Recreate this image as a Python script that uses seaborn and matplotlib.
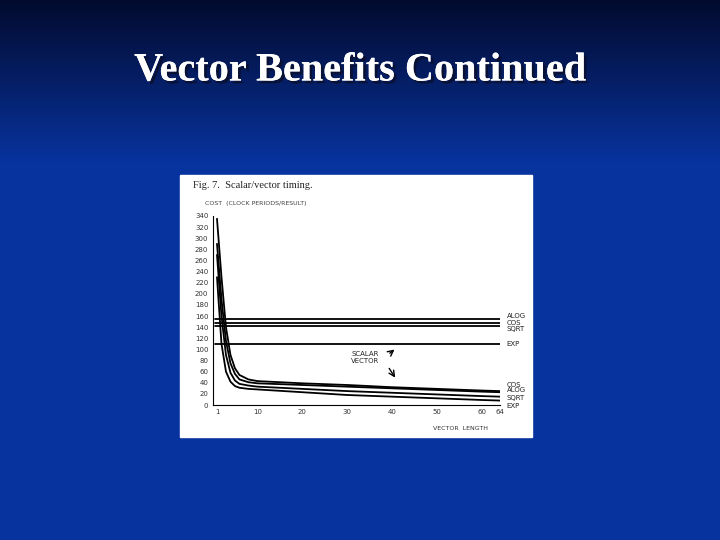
import numpy as np
import matplotlib
matplotlib.use("Agg")
import matplotlib.pyplot as plt
import seaborn as sns
import pandas as pd
from matplotlib.patches import Rectangle
import matplotlib.patheffects as pe

sns.set_style("white")
plt.rcParams['font.family'] = ['DejaVu Sans']

x_vec = [1, 2, 3, 4, 5, 6, 8, 10, 20, 30, 40, 50, 60, 64]
vec_cos = [335, 230, 140, 90, 66, 54, 46, 43, 39, 36, 32, 29, 26, 25]
vec_alog = [290, 190, 115, 75, 56, 46, 41, 39, 36, 33, 30, 27, 24, 23]
vec_sqrt = [270, 160, 90, 58, 44, 38, 35, 33, 29, 25, 22, 19, 16, 15]
vec_exp = [230, 110, 60, 42, 34, 31, 29, 28, 23, 18, 15, 12, 9, 8]
scalar_names = ["ALOG", "COS", "SQRT", "EXP"]
scalar_vals = [155, 148, 142, 110]
vec_names = ["COS", "ALOG", "SQRT", "EXP"]
yticks = list(range(0, 341, 20))
ytick_labels = [str(v) for v in yticks]
xticks = [1, 10, 20, 30, 40, 50, 60, 64]

fig = plt.figure(figsize=(7.2, 5.4), dpi=100)
bg = fig.add_axes([0, 0, 1, 1])
h, w = 540, 720
yy, xx = np.mgrid[0:h, 0:w]
t = np.clip(yy / h, 0, 1)
top = np.array([0.01, 0.04, 0.18])
mid = np.array([0.03, 0.20, 0.62])
f = np.clip(t / 0.3, 0, 1)[..., None]
img = top * (1 - f) + mid * f
bg.imshow(img, extent=[0, w, h, 0], aspect='auto')
bg.set_xlim(0, w); bg.set_ylim(h, 0); bg.axis('off')
bg.add_patch(Rectangle((180, 175), 352, 262, color='white'))
bg.text(360, 71, "Vector Benefits Continued", ha='center', va='center', color='white',
        fontsize=29, fontweight='bold', family='Liberation Serif',
        path_effects=[pe.withSimplePatchShadow(offset=(2, -2), shadow_rgbFace='#0a1030', alpha=0.9), pe.Normal()])
bg.text(193, 186, "Fig. 7.  Scalar/vector timing.", fontsize=7.5, family='Liberation Serif', va='center', color='#222')
bg.text(205, 204, "COST  (CLOCK PERIODS/RESULT)", fontsize=4.5, va='center', color='#444')
bg.text(433, 429, "VECTOR  LENGTH", fontsize=4.5, va='center', color='#333')

ax = fig.add_axes([212.5/720, 135/540, 287.5/720, 189/540])
ax.patch.set_alpha(0)
rows = []
for name, vals in zip(vec_names, [vec_cos, vec_alog, vec_sqrt, vec_exp]):
    for xv, yv in zip(x_vec, vals):
        rows.append(dict(x=xv, y=yv, s="V" + name))
for name, v in zip(scalar_names, scalar_vals):
    for xv in [0.5, 64]:
        rows.append(dict(x=xv, y=v, s="S" + name))
df = pd.DataFrame(rows)
sns.lineplot(data=df, x='x', y='y', units='s', estimator=None, color='black', lw=1.3, ax=ax, legend=False)
ax.set_xlim(0, 64); ax.set_ylim(0, 340)
ax.set_xticks(xticks); ax.set_yticks(yticks); ax.set_yticklabels(ytick_labels)
ax.tick_params(labelsize=5, colors='#333', length=2, pad=1)
ax.set_xlabel(''); ax.set_ylabel('')
for s in ['top', 'right']:
    ax.spines[s].set_visible(False)
for s in ['left', 'bottom']:
    ax.spines[s].set_color('black')
offs = [6, 0, -6, 0]
for name, v, o in zip(scalar_names, scalar_vals, offs):
    ax.text(65.5, v + o, name, fontsize=5, va='center', color='#222')
last = [vec_cos[-1], vec_alog[-1], vec_sqrt[-1], vec_exp[-1]]
for name, v, o in zip(vec_names, last, [11, 4, -3, -9]):
    ax.text(65.5, v + o, name, fontsize=5, va='center', color='#222')
ax.text(34, 85, "SCALAR\nVECTOR", fontsize=5, ha='center', va='center', color='#222')
ax.annotate("", xy=(41, 103), xytext=(39, 90), arrowprops=dict(arrowstyle='->', lw=1, color='black'))
ax.annotate("", xy=(41, 45), xytext=(39, 70), arrowprops=dict(arrowstyle='->', lw=1, color='black'))
fig.savefig("out.png", dpi=100)
